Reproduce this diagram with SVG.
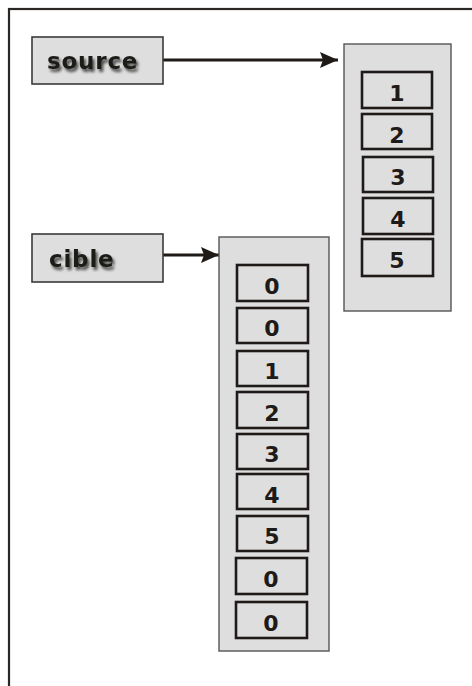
<svg xmlns="http://www.w3.org/2000/svg" width="472" height="686" viewBox="0 0 472 686">
<defs>
<filter id="shadow" x="-20%" y="-40%" width="140%" height="180%">
<feGaussianBlur in="SourceAlpha" stdDeviation="1.5" result="b"/>
<feOffset in="b" dx="2" dy="3" result="o"/>
<feComponentTransfer in="o" result="s"><feFuncA type="linear" slope="0.7"/></feComponentTransfer>
<feMerge><feMergeNode in="s"/><feMergeNode in="SourceGraphic"/></feMerge>
</filter>
<marker id="arrow" markerWidth="18" markerHeight="16" refX="18" refY="8" markerUnits="userSpaceOnUse" orient="auto">
<path d="M0,0 L18,8 L0,16 L3,8 Z" fill="#1e1a18"/>
</marker>
<style>
.frame{fill:none;stroke:#2a2725;stroke-width:2.2}
.box{fill:#dedede;stroke:#3a3a3a;stroke-width:1.6}
.cont{fill:#dedede;stroke:#555;stroke-width:1.4}
.cell{fill:#dedede;stroke:#1e1a18;stroke-width:2.6}
.lbl{font-family:"DejaVu Sans","Liberation Sans",Arial,sans-serif;font-weight:bold;font-size:23px;fill:#1e1a18;letter-spacing:0.8px;filter:url(#shadow)}
.num{font-family:"DejaVu Sans","Liberation Sans",Arial,sans-serif;font-weight:bold;font-size:22px;fill:#1e1a18;text-anchor:middle}
.conn{stroke:#1e1a18;stroke-width:2.8;fill:none}
</style>
</defs>
<rect x="0" y="0" width="472" height="686" fill="#ffffff"/>
<rect class="frame" x="9" y="9" width="490" height="700"/>
<g id="connectors">
<line class="conn" x1="163" y1="60" x2="338" y2="60" marker-end="url(#arrow)"/>
<line class="conn" x1="163" y1="255" x2="219" y2="255" marker-end="url(#arrow)"/>
</g>
<g id="source">
<rect class="box" x="32" y="37" width="131" height="47"/>
<text class="lbl" x="47" y="69">source</text>
</g>
<g id="cible">
<rect class="box" x="32" y="234" width="131" height="48"/>
<text class="lbl" x="49" y="267">cible</text>
</g>
<g id="source-array">
<rect class="cont" x="344" y="44" width="107" height="267"/>
<rect class="cell" x="362" y="72" width="70" height="36"/><text class="num" x="397" y="101">1</text>
<rect class="cell" x="362" y="114" width="70" height="35"/><text class="num" x="397" y="143">2</text>
<rect class="cell" x="363" y="157" width="70" height="35"/><text class="num" x="398" y="185">3</text>
<rect class="cell" x="363" y="198" width="70" height="36"/><text class="num" x="398" y="227">4</text>
<rect class="cell" x="362" y="239" width="71" height="37"/><text class="num" x="397" y="268">5</text>
</g>
<g id="cible-array">
<rect class="cont" x="219" y="237" width="110" height="414"/>
<rect class="cell" x="237" y="265" width="71" height="36"/><text class="num" x="272" y="294">0</text>
<rect class="cell" x="237" y="308" width="71" height="35"/><text class="num" x="272" y="336">0</text>
<rect class="cell" x="237" y="351" width="71" height="35"/><text class="num" x="272" y="379">1</text>
<rect class="cell" x="237" y="392" width="71" height="36"/><text class="num" x="272" y="421">2</text>
<rect class="cell" x="237" y="434" width="71" height="35"/><text class="num" x="272" y="462">3</text>
<rect class="cell" x="237" y="474" width="71" height="35"/><text class="num" x="272" y="503">4</text>
<rect class="cell" x="237" y="516" width="71" height="35"/><text class="num" x="272" y="544">5</text>
<rect class="cell" x="236" y="558" width="71" height="36"/><text class="num" x="271" y="587">0</text>
<rect class="cell" x="236" y="602" width="71" height="36"/><text class="num" x="271" y="631">0</text>
</g>
</svg>
